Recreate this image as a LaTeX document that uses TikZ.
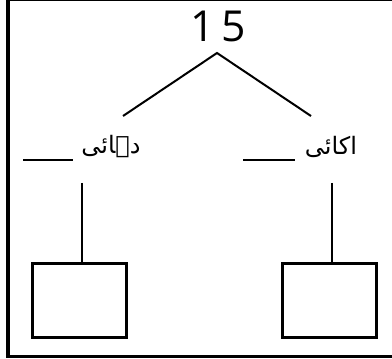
\documentclass[tikz,border=0pt]{standalone}
\usepackage{fontspec}
\setmainfont{Open Sans}
\newfontfamily\urdufont[Script=Arabic]{DejaVu Sans}
\TeXXeTstate=1

\begin{document}
\begin{tikzpicture}[x=0.75pt, y=-0.75pt, line width=1.5pt,
    placebox/.style={draw, line width=2.2pt, minimum width=70pt, minimum height=55pt, inner sep=0pt},
    word/.style={inner sep=0pt, font=\urdufont\fontsize{18}{18}\selectfont}]
  \useasboundingbox (0, 0) rectangle (392, 359);
  \draw[line width=2.4pt] (8, -0.5) rectangle (396, 356.5);
  \node[inner sep=0pt, font=\fontsize{32}{32}\selectfont] (n15) at (218, 26) {1\,5};
  \coordinate (apex) at (217, 53);
  \coordinate (tensend) at (123, 116);
  \coordinate (onesend) at (311, 116);
  \draw (tensend) -- (apex) -- (onesend);
  % blanks and words
  \node[word] (tens) at (111, 147) {\beginR دہائی\endR};
  \node[word] (ones) at (331, 147) {\beginR اکائی\endR};
  \coordinate (tensblankA) at (23, 160);
  \coordinate (tensblankB) at (73, 160);
  \coordinate (onesblankA) at (243, 160);
  \coordinate (onesblankB) at (295, 160);
  \draw (tensblankA) -- (tensblankB);
  \draw (onesblankA) -- (onesblankB);
  % boxes
  \node[placebox] (tensbox) at (79.5, 300.5) {};
  \node[placebox] (onesbox) at (329.5, 300.5) {};
  \coordinate (tenstop) at (82, 183);
  \coordinate (onestop) at (332, 183);
  \draw (tenstop) -- (tenstop |- tensbox.north);
  \draw (onestop) -- (onestop |- onesbox.north);
\end{tikzpicture}
\end{document}
